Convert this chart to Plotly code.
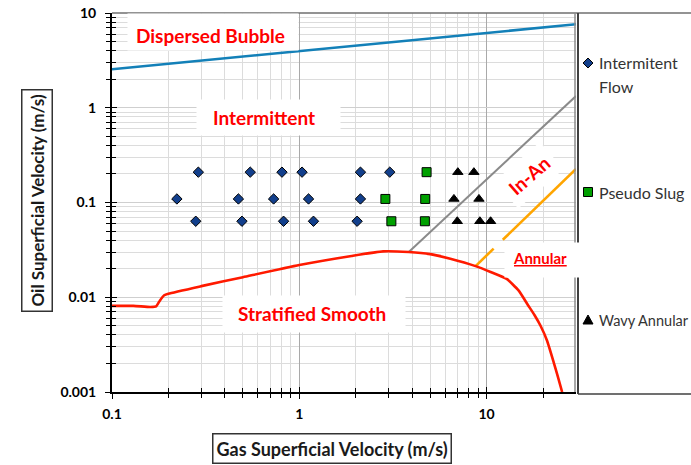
import plotly.graph_objects as go

# ---- flow-regime boundaries (gas / oil superficial velocity, m/s) ----
db_vsg = [0.1, 1.0, 30.0]
db_vso = [2.55, 3.97, 7.6]

strat_vsg = [0.1, 0.13, 0.16, 0.172, 0.18, 0.19, 0.2, 0.3, 0.5, 1.0, 1.9, 2.8,
             3.84, 5.0, 6.4, 8.73, 10.5, 12.8, 14.8, 16.6, 18.0, 19.4, 21.0,
             22.8, 24.0, 25.3]
strat_vso = [0.0081, 0.0081, 0.0079, 0.0080, 0.0092, 0.0105, 0.0109, 0.0131,
             0.0163, 0.0219, 0.0273, 0.0305, 0.0300, 0.0285, 0.0255, 0.0213,
             0.0185, 0.0156, 0.0118, 0.0083, 0.0065, 0.0050, 0.0035,
             0.00206, 0.00145, 0.001]

inan_vsg = [3.84, 30.0]
inan_vso = [0.0300, 1.33]

ann_vsg = [8.73, 10.9, None, 12.2, 30.0]
ann_vso = [0.0213, 0.0326, None, 0.0404, 0.226]

# ---- experimental points ----
int_vsg = [0.289, 0.547, 0.808, 1.034, 2.12, 3.04,
           0.222, 0.473, 0.729, 1.12, 2.12,
           0.28, 0.494, 0.824, 1.19, 2.035]
int_vso = [0.209, 0.209, 0.209, 0.209, 0.209, 0.209,
           0.109, 0.109, 0.109, 0.109, 0.109,
           0.0634, 0.0634, 0.0634, 0.0634, 0.0634]

ps_vsg = [4.78, 2.88, 4.70, 3.10, 4.68]
ps_vso = [0.209, 0.109, 0.109, 0.0634, 0.0634]

wa_vsg = [7.02, 8.55, 6.69, 9.1, 6.97, 9.2, 10.5]
wa_vso = [0.209, 0.209, 0.109, 0.109, 0.0634, 0.0634, 0.0634]

legend_labels = ["Intermitent", "Flow", "Pseudo Slug", "Wavy Annular"]
x_ticks = [0.1, 1, 10]
x_ticktext = ["0.1", "1", "10"]
y_ticks = [0.001, 0.01, 0.1, 1, 10]
y_ticktext = ["0.001", "0.01", "0.1", "1", "10"]

W, H = 691, 465
L, R, T, B = 112, 115, 13, 73
PW, PH = W - L - R, H - T - B


def px(x):
    return (x - L) / PW


def py(y):
    return 1 - (y - T) / PH


FONT = "Lato"
RED = "#ff0000"
NAVY, GREEN, BLACK = "#123f8c", "#00a000", "#000000"

minor_x = [m * 10 ** e for e in (-1, 0, 1) for m in range(2, 10) if m * 10 ** e < 30]
minor_y = [m * 10 ** e for e in (-3, -2, -1, 0) for m in range(2, 10)]

fig = go.Figure()

fig.add_trace(go.Scatter(x=db_vsg, y=db_vso, mode="lines",
                         line=dict(color="#1380b8", width=2.6), showlegend=False))
fig.add_trace(go.Scatter(x=inan_vsg, y=inan_vso, mode="lines",
                         line=dict(color="#8a8a8a", width=2), showlegend=False))
fig.add_trace(go.Scatter(x=ann_vsg, y=ann_vso, mode="lines", connectgaps=False,
                         line=dict(color="#ffa500", width=2.6), showlegend=False))
fig.add_trace(go.Scatter(x=strat_vsg, y=strat_vso, mode="lines",
                         line=dict(color="#ff1a00", width=2.6, shape="spline", smoothing=0.5),
                         showlegend=False))

fig.add_trace(go.Scatter(x=int_vsg, y=int_vso, mode="markers", showlegend=False,
                         marker=dict(symbol="diamond", size=8, color=NAVY,
                                     line=dict(color=BLACK, width=1))))
fig.add_trace(go.Scatter(x=ps_vsg, y=ps_vso, mode="markers", showlegend=False,
                         marker=dict(symbol="square", size=9, color=GREEN,
                                     line=dict(color=BLACK, width=1))))
fig.add_trace(go.Scatter(x=wa_vsg, y=wa_vso, mode="markers", showlegend=False,
                         marker=dict(symbol="triangle-up", size=9, color=BLACK,
                                     line=dict(color=BLACK, width=1))))

# invisible carrier so the overlay tick axes (inner half of the crossing ticks) are drawn
fig.add_trace(go.Scatter(x=db_vsg, y=db_vso, xaxis="x3", yaxis="y3", mode="lines",
                         line=dict(width=0), hoverinfo="skip", showlegend=False))

grid_major = "#a9a9a9"
grid_minor = "#dcdcdc"
tickfont = dict(family=FONT, size=14, color="#000000", weight="bold")

fig.update_layout(
    width=W, height=H,
    margin=dict(l=L, r=R, t=T, b=B, autoexpand=False),
    paper_bgcolor="white", plot_bgcolor="white",
    showlegend=False,
    xaxis=dict(type="log", range=[-1, 1.4771], tickvals=x_ticks, ticktext=x_ticktext,
               tickfont=tickfont, ticks="outside", ticklen=5, tickwidth=1.2,
               tickcolor="#000000", showline=True, linecolor="#000000", linewidth=2,
               showgrid=True, gridcolor=grid_major, gridwidth=1, zeroline=False,
               ticklabelstandoff=3,
               minor=dict(tickvals=minor_x, ticks="outside", ticklen=4,
                          tickcolor="#000000", showgrid=True, gridcolor=grid_minor)),
    yaxis=dict(type="log", range=[-3, 1], tickvals=y_ticks, ticktext=y_ticktext,
               tickfont=tickfont, ticks="outside", ticklen=5, tickwidth=1.2,
               tickcolor="#000000", showline=True, linecolor="#000000", linewidth=2,
               showgrid=True, gridcolor="#cfcfcf", gridwidth=1, zeroline=False,
               ticklabelstandoff=6,
               minor=dict(tickvals=minor_y, ticks="outside", ticklen=4,
                          tickcolor="#000000", showgrid=True, gridcolor=grid_minor)),
    xaxis3=dict(overlaying="x", type="log", range=[-1, 1.4771], tickvals=x_ticks,
                showticklabels=False, ticks="inside", ticklen=5, tickwidth=1.2,
                tickcolor="#000000", showgrid=False, zeroline=False, showline=False,
                minor=dict(tickvals=minor_x, ticks="inside", ticklen=4,
                           tickcolor="#000000", showgrid=False)),
    yaxis3=dict(overlaying="y", type="log", range=[-3, 1], tickvals=y_ticks,
                showticklabels=False, ticks="inside", ticklen=5, tickwidth=1.2,
                tickcolor="#000000", showgrid=False, zeroline=False, showline=False,
                minor=dict(tickvals=minor_y, ticks="inside", ticklen=4,
                           tickcolor="#000000", showgrid=False)),
)

# frame lines: plot top/right edge and the legend panel
frame = [
    dict(x0=px(112), x1=px(700), y0=py(13), y1=py(13), color="#6f6f6f", w=1.5),
    dict(x0=px(575), x1=px(575), y0=py(13), y1=py(392), color="#8c8c8c", w=1.5),
    dict(x0=px(578), x1=px(578), y0=py(13), y1=py(394), color="#404040", w=2),
    dict(x0=px(578), x1=px(700), y0=py(394), y1=py(394), color="#404040", w=1.5),
]
for s in frame:
    fig.add_shape(type="line", xref="paper", yref="paper", x0=s["x0"], x1=s["x1"],
                  y0=s["y0"], y1=s["y1"], line=dict(color=s["color"], width=s["w"]),
                  layer="above")

# legend keys, drawn in pixel units around their anchor
key_paths = ["M -5,0 L 0,5 L 5,0 L 0,-5 Z",
             "M -4.5,-4.5 L 4.5,-4.5 L 4.5,4.5 L -4.5,4.5 Z",
             "M -5,-4 L 5,-4 L 0,5 Z"]
key_colors = [NAVY, GREEN, BLACK]
for path, col, y in zip(key_paths, key_colors, [63, 192, 320]):
    fig.add_shape(type="path", xref="paper", yref="paper", xsizemode="pixel",
                  ysizemode="pixel", xanchor=px(588), yanchor=py(y), path=path,
                  fillcolor=col, line=dict(color=BLACK, width=1), layer="above")


def note(text, x, y, **kw):
    fig.add_annotation(xref="paper", yref="paper", x=px(x), y=py(y), text=text,
                       showarrow=False, xanchor=kw.pop("xanchor", "center"),
                       yanchor="middle", **kw)


# white label panels
panels = [(128, 298, 14, 50), (197, 340, 100, 135), (223, 405, 296, 332), (505, 582, 243, 277)]
for x0, x1, y0, y1 in panels:
    note(" ", (x0 + x1) / 2, (y0 + y1) / 2, bgcolor="white", borderpad=0,
         width=x1 - x0, height=y1 - y0)

region_font = dict(family=FONT, size=19, color=RED, weight="bold")
regions = [("Dispersed Bubble", 210, 36), ("Intermittent", 264, 117),
           ("Stratified Smooth", 312, 313)]
for txt, x, y in regions:
    note(txt, x, y, font=region_font)

note("In-An", 529, 176, textangle=-41, font=region_font, bgcolor="white", borderpad=6)
note("<u>Annular</u>", 540, 258, font=dict(family=FONT, size=15, color=RED, weight="bold"))

# boxed axis titles
note("Gas Superficial Velocity (m/s)", 332, 448,
     font=dict(family=FONT, size=18, color="#1a1a1a", weight="bold"),
     bordercolor="#333333", borderwidth=1.5, borderpad=3, bgcolor="white")
note("Oil Superficial Velocity (m/s)", 37, 201, textangle=-90,
     font=dict(family=FONT, size=17, color="#1a1a1a", weight="bold"),
     bordercolor="#333333", borderwidth=1.5, borderpad=4, bgcolor="white")

# legend text
for txt, y, size in zip(legend_labels, [63, 87, 192, 320], [16, 16, 16, 14.5]):
    note(txt, 597, y, xanchor="left", font=dict(family=FONT, size=size, color="#333333"))

fig.write_html("out.html")
